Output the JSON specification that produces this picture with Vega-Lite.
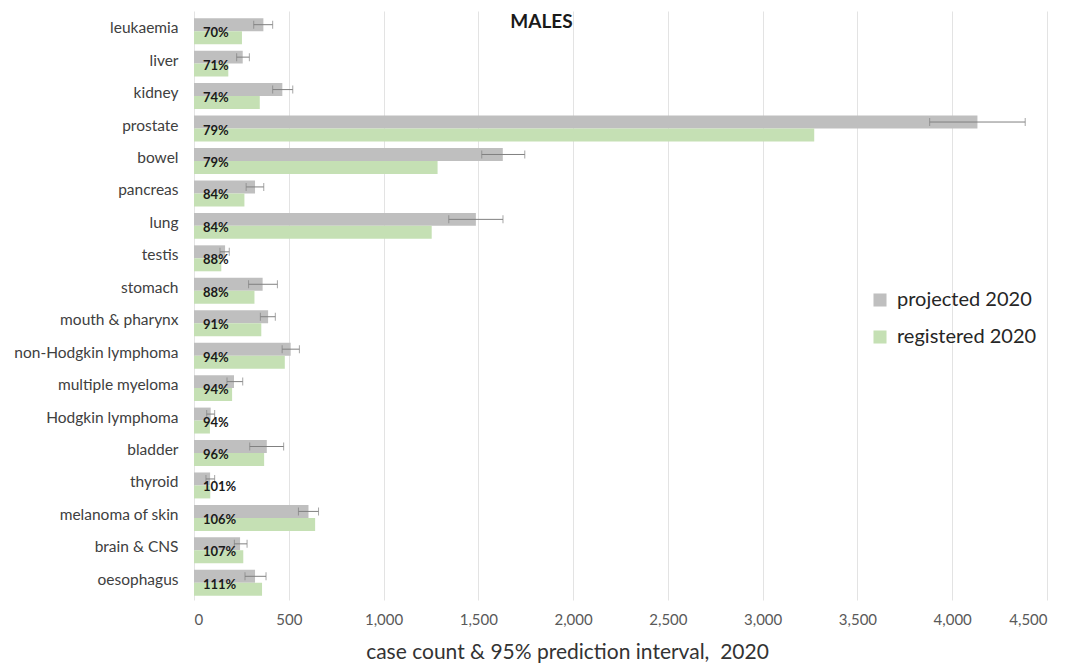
{
  "$schema": "https://vega.github.io/schema/vega-lite/v6.json",
  "autosize": {"type": "none"},
  "width": 853,
  "height": 589,
  "padding": {"left": 194, "top": 11, "right": 21, "bottom": 63},
  "background": "white",
  "config": {"view": {"stroke": null}, "font": "Lato"},
  "title": {"text": "MALES", "anchor": "middle", "dx": -79, "offset": -40, "baseline": "bottom", "fontSize": 19, "fontWeight": "bold", "font": "Lato", "color": "#1a1a1a"},
  "data": {"values": [
    {"cancer": "leukaemia", "series": "projected 2020", "value": 366, "lo": 315, "hi": 415, "pct": "70%"},
    {"cancer": "leukaemia", "series": "registered 2020", "value": 253, "pct": "70%"},
    {"cancer": "liver", "series": "projected 2020", "value": 257, "lo": 225, "hi": 292, "pct": "71%"},
    {"cancer": "liver", "series": "registered 2020", "value": 181, "pct": "71%"},
    {"cancer": "kidney", "series": "projected 2020", "value": 466, "lo": 415, "hi": 521, "pct": "74%"},
    {"cancer": "kidney", "series": "registered 2020", "value": 347, "pct": "74%"},
    {"cancer": "prostate", "series": "projected 2020", "value": 4133, "lo": 3881, "hi": 4385, "pct": "79%"},
    {"cancer": "prostate", "series": "registered 2020", "value": 3272, "pct": "79%"},
    {"cancer": "bowel", "series": "projected 2020", "value": 1629, "lo": 1518, "hi": 1745, "pct": "79%"},
    {"cancer": "bowel", "series": "registered 2020", "value": 1285, "pct": "79%"},
    {"cancer": "pancreas", "series": "projected 2020", "value": 322, "lo": 275, "hi": 368, "pct": "84%"},
    {"cancer": "pancreas", "series": "registered 2020", "value": 266, "pct": "84%"},
    {"cancer": "lung", "series": "projected 2020", "value": 1487, "lo": 1344, "hi": 1630, "pct": "84%"},
    {"cancer": "lung", "series": "registered 2020", "value": 1254, "pct": "84%"},
    {"cancer": "testis", "series": "projected 2020", "value": 164, "lo": 137, "hi": 186, "pct": "88%"},
    {"cancer": "testis", "series": "registered 2020", "value": 144, "pct": "88%"},
    {"cancer": "stomach", "series": "projected 2020", "value": 362, "lo": 288, "hi": 440, "pct": "88%"},
    {"cancer": "stomach", "series": "registered 2020", "value": 319, "pct": "88%"},
    {"cancer": "mouth & pharynx", "series": "projected 2020", "value": 391, "lo": 350, "hi": 429, "pct": "91%"},
    {"cancer": "mouth & pharynx", "series": "registered 2020", "value": 355, "pct": "91%"},
    {"cancer": "non-Hodgkin lymphoma", "series": "projected 2020", "value": 510, "lo": 465, "hi": 556, "pct": "94%"},
    {"cancer": "non-Hodgkin lymphoma", "series": "registered 2020", "value": 479, "pct": "94%"},
    {"cancer": "multiple myeloma", "series": "projected 2020", "value": 211, "lo": 174, "hi": 257, "pct": "94%"},
    {"cancer": "multiple myeloma", "series": "registered 2020", "value": 201, "pct": "94%"},
    {"cancer": "Hodgkin lymphoma", "series": "projected 2020", "value": 88, "lo": 67, "hi": 109, "pct": "94%"},
    {"cancer": "Hodgkin lymphoma", "series": "registered 2020", "value": 84, "pct": "94%"},
    {"cancer": "bladder", "series": "projected 2020", "value": 384, "lo": 294, "hi": 473, "pct": "96%"},
    {"cancer": "bladder", "series": "registered 2020", "value": 370, "pct": "96%"},
    {"cancer": "thyroid", "series": "projected 2020", "value": 85, "lo": 63, "hi": 109, "pct": "101%"},
    {"cancer": "thyroid", "series": "registered 2020", "value": 86, "pct": "101%"},
    {"cancer": "melanoma of skin", "series": "projected 2020", "value": 604, "lo": 551, "hi": 657, "pct": "106%"},
    {"cancer": "melanoma of skin", "series": "registered 2020", "value": 639, "pct": "106%"},
    {"cancer": "brain & CNS", "series": "projected 2020", "value": 243, "lo": 213, "hi": 280, "pct": "107%"},
    {"cancer": "brain & CNS", "series": "registered 2020", "value": 260, "pct": "107%"},
    {"cancer": "oesophagus", "series": "projected 2020", "value": 322, "lo": 269, "hi": 380, "pct": "111%"},
    {"cancer": "oesophagus", "series": "registered 2020", "value": 359, "pct": "111%"}
  ]},
  "encoding": {
    "y": {"field": "cancer", "type": "nominal", "sort": null,
      "scale": {"paddingInner": 0.2, "paddingOuter": 0.176, "align": 0.63},
      "axis": {"title": null, "domain": false, "ticks": false, "labelFontSize": 15.5, "labelColor": "#404040", "labelPadding": 16, "labelOffset": -3, "labelFont": "Lato"}}
  },
  "layer": [
    {
      "mark": {"type": "bar"},
      "encoding": {
        "x": {"field": "value", "type": "quantitative",
          "scale": {"domain": [0, 4500], "nice": false},
          "axis": {"title": "case count & 95% prediction interval,\u00a0 2020", "values": [0,500,1000,1500,2000,2500,3000,3500,4000,4500], "format": ",d", "domain": false, "ticks": false, "grid": true, "gridColor": "#e3e3e3", "labelFontSize": 15, "labelColor": "#595959", "labelPadding": 12, "labelFont": "Lato", "titleFontSize": 21, "titleFontWeight": "normal", "titleColor": "#333333", "titleFont": "Lato", "titleX": 373, "titleY": 58, "titleAlign": "center", "titleBaseline": "alphabetic", "titleAnchor": "start"}},
        "yOffset": {"field": "series", "type": "nominal", "sort": ["projected 2020", "registered 2020"]},
        "color": {"field": "series", "type": "nominal",
          "scale": {"domain": ["projected 2020", "registered 2020"], "range": ["#bfbfbf", "#c5e0b4"]},
          "legend": {"title": null, "orient": "none", "legendX": 676, "legendY": 279, "symbolType": "square", "symbolSize": 170, "labelFontSize": 20, "labelColor": "#262626", "labelFont": "Lato", "rowPadding": 17, "labelOffset": 7, "symbolStrokeWidth": 0}}
      }
    },
    {
      "transform": [{"filter": "datum.series == 'projected 2020'"}],
      "mark": {"type": "rule", "color": "#808080", "strokeWidth": 1},
      "encoding": {
        "x": {"field": "lo", "type": "quantitative"},
        "x2": {"field": "hi"},
        "yOffset": {"field": "series", "type": "nominal", "scale": {"domain": ["projected 2020", "registered 2020"]}}
      }
    },
    {
      "transform": [{"filter": "datum.series == 'projected 2020'"}],
      "mark": {"type": "tick", "color": "#808080", "thickness": 1, "size": 8},
      "encoding": {
        "x": {"field": "lo", "type": "quantitative"},
        "yOffset": {"field": "series", "type": "nominal", "scale": {"domain": ["projected 2020", "registered 2020"]}}
      }
    },
    {
      "transform": [{"filter": "datum.series == 'projected 2020'"}],
      "mark": {"type": "tick", "color": "#808080", "thickness": 1, "size": 8},
      "encoding": {
        "x": {"field": "hi", "type": "quantitative"},
        "yOffset": {"field": "series", "type": "nominal", "scale": {"domain": ["projected 2020", "registered 2020"]}}
      }
    },
    {
      "transform": [{"filter": "datum.series == 'registered 2020'"}],
      "mark": {"type": "text", "align": "left", "baseline": "middle", "dx": 9, "dy": 2, "fontSize": 13, "fontWeight": "bold", "color": "#1a1a1a", "font": "Lato"},
      "encoding": {
        "x": {"datum": 0, "type": "quantitative"},
        "text": {"field": "pct"}
      }
    }
  ]
}
